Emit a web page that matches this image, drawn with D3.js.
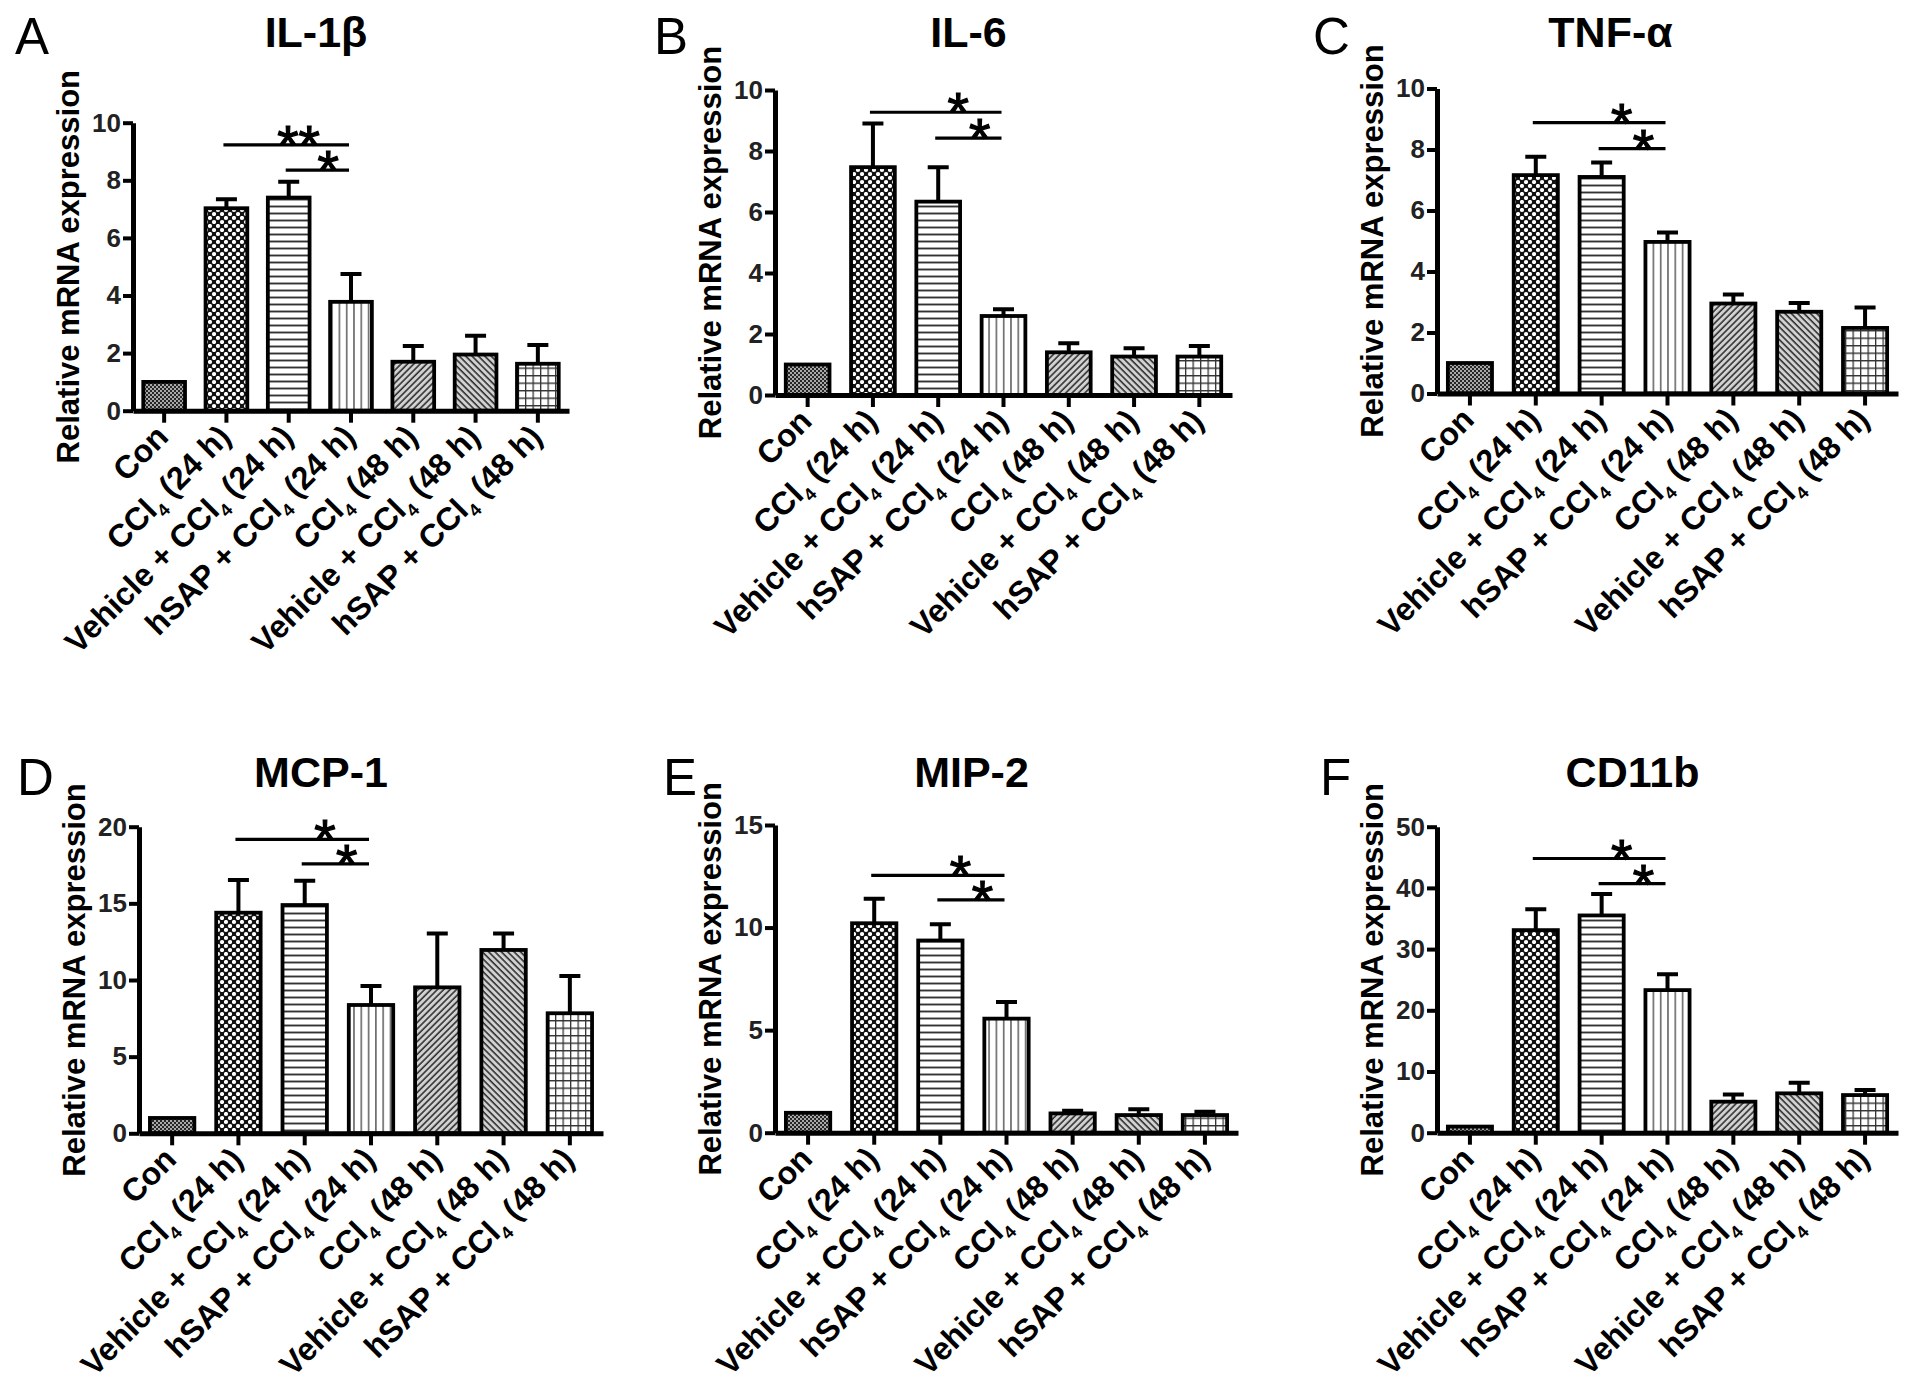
<!DOCTYPE html>
<html>
<head>
<meta charset="utf-8">
<script src="https://cdn.jsdelivr.net/npm/d3@7/dist/d3.min.js"></script>
<style>
  body { margin: 0; background: #fff; }
  svg { font-family: 'Liberation Sans', Arial, sans-serif; }
</style>
</head>
<body>
<div class="chart"></div>
<script>
// ---- data ----
const groups = ['Con', 'CCl4 (24 h)', 'Vehicle + CCl4 (24 h)', 'hSAP + CCl4 (24 h)',
                'CCl4 (48 h)', 'Vehicle + CCl4 (48 h)', 'hSAP + CCl4 (48 h)'];

const panelLetters = ['A', 'B', 'C', 'D', 'E', 'F'];
const panelTitles = ['IL-1β', 'IL-6', 'TNF-α', 'MCP-1', 'MIP-2', 'CD11b'];
const yMax = [10, 10, 10, 20, 15, 50];
const yStep = [2, 2, 2, 5, 5, 10];

const il1bMean = [1.0, 7.03, 7.40, 3.78, 1.70, 1.95, 1.63];
const il1bSem  = [0, 0.31, 0.55, 0.97, 0.55, 0.65, 0.65];
const il6Mean  = [1.0, 7.47, 6.34, 2.59, 1.40, 1.26, 1.26];
const il6Sem   = [0, 1.43, 1.13, 0.22, 0.30, 0.27, 0.35];
const tnfMean  = [1.0, 7.16, 7.10, 4.97, 2.95, 2.68, 2.15];
const tnfSem   = [0, 0.60, 0.47, 0.31, 0.30, 0.29, 0.67];
const mcpMean  = [1.0, 14.39, 14.89, 8.37, 9.52, 11.96, 7.83];
const mcpSem   = [0, 2.13, 1.59, 1.24, 3.52, 1.08, 2.43];
const mipMean  = [0.97, 10.21, 9.37, 5.56, 0.94, 0.86, 0.86];
const mipSem   = [0, 1.19, 0.79, 0.81, 0.13, 0.28, 0.16];
const cd11Mean = [1.0, 33.1, 35.5, 23.3, 5.07, 6.43, 6.15];
const cd11Sem  = [0, 3.4, 3.5, 2.6, 1.19, 1.74, 0.82];

const means = [il1bMean, il6Mean, tnfMean, mcpMean, mipMean, cd11Mean];
const sems = [il1bSem, il6Sem, tnfSem, mcpSem, mipSem, cd11Sem];

// significance brackets: [from group, to group, stars, height in data units]
const sigMarks = [
  [[1, 3, '**', 9.23], [2, 3, '*', 8.35]],
  [[1, 3, '*', 9.27], [2, 3, '*', 8.42]],
  [[1, 3, '*', 8.88], [2, 3, '*', 8.03]],
  [[1, 3, '*', 19.17], [2, 3, '*', 17.57]],
  [[1, 3, '*', 12.54], [2, 3, '*', 11.35]],
  [[1, 3, '*', 44.8], [2, 3, '*', 40.7]]
];

// ---- layout (pixels) ----
const boxes = [
  {x0: 133, x1: 569, top: 122.7, zero: 410.7, lx: 15, ly: 54, ty: 47, tdx: -35},
  {x0: 775, x1: 1232, top: 90, zero: 395, lx: 654, ly: 54, ty: 47, tdx: -35},
  {x0: 1437, x1: 1898, top: 88.5, zero: 393.5, lx: 1313, ly: 54, ty: 47, tdx: -57},
  {x0: 139, x1: 603, top: 826.7, zero: 1133.3, lx: 17, ly: 795, ty: 787, tdx: -50},
  {x0: 775, x1: 1238, top: 825, zero: 1132.7, lx: 663, ly: 795, ty: 787, tdx: -35},
  {x0: 1437, x1: 1898, top: 826.7, zero: 1132.7, lx: 1320, ly: 795, ty: 787, tdx: -35}
];

const width = 1913, height = 1383;

let svg = d3.select('.chart')
  .append('svg')
  .attr('width', width)
  .attr('height', height);

svg.append('rect').attr('width', width).attr('height', height).attr('fill', '#fff');

// fill patterns, one per group
let defs = svg.append('defs');

let p0 = defs.append('pattern').attr('id', 'pat0').attr('patternUnits', 'userSpaceOnUse')
  .attr('width', 4).attr('height', 4);
p0.append('rect').attr('width', 4).attr('height', 4).attr('fill', '#a8a8a8');
p0.append('rect').attr('width', 2).attr('height', 2).attr('fill', '#262626');
p0.append('rect').attr('x', 2).attr('y', 2).attr('width', 2).attr('height', 2).attr('fill', '#262626');

let p1 = defs.append('pattern').attr('id', 'pat1').attr('patternUnits', 'userSpaceOnUse')
  .attr('width', 8).attr('height', 8);
p1.append('rect').attr('width', 8).attr('height', 8).attr('fill', '#111');
p1.append('circle').attr('cx', 2).attr('cy', 2).attr('r', 2.1).attr('fill', '#fff');
p1.append('circle').attr('cx', 6).attr('cy', 6).attr('r', 2.1).attr('fill', '#fff');

let p2 = defs.append('pattern').attr('id', 'pat2').attr('patternUnits', 'userSpaceOnUse')
  .attr('width', 8).attr('height', 7);
p2.append('rect').attr('width', 8).attr('height', 7).attr('fill', '#fff');
p2.append('line').attr('x1', 0).attr('x2', 8).attr('y1', 3.5).attr('y2', 3.5)
  .attr('stroke', '#333').attr('stroke-width', 1.9);

let p3 = defs.append('pattern').attr('id', 'pat3').attr('patternUnits', 'userSpaceOnUse')
  .attr('width', 7.3).attr('height', 8);
p3.append('rect').attr('width', 7.3).attr('height', 8).attr('fill', '#fff');
p3.append('line').attr('x1', 3.6).attr('x2', 3.6).attr('y1', 0).attr('y2', 8)
  .attr('stroke', '#444').attr('stroke-width', 1.3);

// diagonal hatches
[['pat4', 45], ['pat5', -45]].forEach(([id, angle]) => {
  let p = defs.append('pattern').attr('id', id).attr('patternUnits', 'userSpaceOnUse')
    .attr('width', 4.5).attr('height', 8)
    .attr('patternTransform', `rotate(${angle})`);
  p.append('rect').attr('width', 4.5).attr('height', 8).attr('fill', '#d2d2d2');
  p.append('line').attr('x1', 1).attr('x2', 1).attr('y1', 0).attr('y2', 8)
    .attr('stroke', '#262626').attr('stroke-width', 1.5);
});

let p6 = defs.append('pattern').attr('id', 'pat6').attr('patternUnits', 'userSpaceOnUse')
  .attr('width', 7.5).attr('height', 7.5);
p6.append('rect').attr('width', 7.5).attr('height', 7.5).attr('fill', '#fff');
p6.append('path').attr('d', 'M0.6,0V7.5M0,0.6H7.5')
  .attr('stroke', '#333').attr('stroke-width', 1.4);

function addLabel(sel, label) {
  // CCl4 gets a subscript 4
  const parts = label.split('CCl4');
  sel.append('tspan').text(parts[0]);
  if (parts.length > 1) {
    sel.append('tspan').text('CCl');
    sel.append('tspan').text('4').attr('font-size', 18).attr('dy', 8);
    sel.append('tspan').text(parts[1]).attr('dy', -8);
  }
}

boxes.forEach((box, i) => {
  const g = svg.append('g');
  const mean = means[i], sem = sems[i];

  const xScale = d3.scaleBand()
    .domain(groups)
    .range([box.x0, box.x1])
    .paddingInner(0.33)
    .paddingOuter(0.165);
  const yScale = d3.scaleLinear()
    .domain([0, yMax[i]])
    .range([box.zero, box.top]);

  const bw = xScale.bandwidth();
  const cx = d => xScale(d) + bw / 2;

  // error bars (upper only)
  g.selectAll('.err')
    .data(groups.filter((d, j) => sem[j] > 0))
    .join('path')
    .attr('class', 'err')
    .attr('d', d => {
      const j = groups.indexOf(d);
      const yt = yScale(mean[j] + sem[j]);
      return `M${cx(d)},${yScale(mean[j])}V${yt}M${cx(d) - 10.5},${yt}H${cx(d) + 10.5}`;
    })
    .attr('fill', 'none')
    .attr('stroke', '#000')
    .attr('stroke-width', 4);

  g.selectAll('.bar')
    .data(groups)
    .join('rect')
    .attr('class', 'bar')
    .attr('x', d => xScale(d))
    .attr('y', (d, j) => yScale(mean[j]))
    .attr('width', bw)
    .attr('height', (d, j) => box.zero - yScale(mean[j]))
    .attr('fill', (d, j) => `url(#pat${j})`)
    .attr('stroke', '#000')
    .attr('stroke-width', 3.8);

  // axes
  const yAxis = d3.axisLeft(yScale)
    .tickValues(d3.range(0, yMax[i] + 0.001, yStep[i]))
    .tickSize(10)
    .tickSizeOuter(0)
    .tickPadding(2);
  const ya = g.append('g')
    .attr('transform', `translate(${box.x0},0)`)
    .call(yAxis)
    .attr('font-size', 26)
    .attr('font-weight', 'bold')
    .attr('font-family', "'Liberation Sans', Arial, sans-serif");
  ya.select('.domain').attr('stroke-width', 5);
  ya.selectAll('.tick line').attr('stroke-width', 4);
  ya.selectAll('.tick text').attr('fill', '#222');

  const xAxis = d3.axisBottom(xScale)
    .tickSize(12)
    .tickSizeOuter(0)
    .tickFormat('');
  const xa = g.append('g')
    .attr('transform', `translate(0,${box.zero})`)
    .call(xAxis);
  xa.select('.domain').attr('stroke-width', 5);
  xa.selectAll('.tick line').attr('stroke-width', 4);

  g.selectAll('.xlabel')
    .data(groups)
    .join('text')
    .attr('class', 'xlabel')
    .attr('text-anchor', 'end')
    .attr('font-size', 32)
    .attr('font-weight', 'bold')
    .attr('transform', d => `translate(${cx(d) + 6},${box.zero + 28}) rotate(-45)`)
    .each(function(d) { addLabel(d3.select(this), d); });

  // axis title
  g.append('text')
    .text('Relative mRNA expression')
    .attr('transform', `translate(${box.x0 - 54},${(box.zero + box.top) / 2}) rotate(-90)`)
    .attr('text-anchor', 'middle')
    .attr('font-size', 31)
    .attr('font-weight', 'bold');

  // panel title and letter
  g.append('text')
    .text(panelTitles[i])
    .attr('x', (box.x0 + box.x1) / 2 + box.tdx)
    .attr('y', box.ty)
    .attr('text-anchor', 'middle')
    .attr('font-size', 43)
    .attr('font-weight', 'bold');
  g.append('text')
    .text(panelLetters[i])
    .attr('x', box.lx)
    .attr('y', box.ly)
    .attr('font-size', 51);

  // significance lines + stars
  sigMarks[i].forEach(([a, b, stars, v]) => {
    const x1 = cx(groups[a]) - 3, x2 = cx(groups[b]) - 2;
    const yy = yScale(v);
    g.append('line')
      .attr('x1', x1).attr('x2', x2)
      .attr('y1', yy).attr('y2', yy)
      .attr('stroke', '#000')
      .attr('stroke-width', 3.2);
    g.append('text')
      .text(stars)
      .attr('x', x2 - (x2 - x1) * 0.33 - (stars.length - 1) * 9)
      .attr('y', yy + 19)
      .attr('text-anchor', 'middle')
      .attr('font-size', 55)
      .attr('stroke', '#000')
      .attr('stroke-width', 1.2);
  });
});
</script>
</body>
</html>
